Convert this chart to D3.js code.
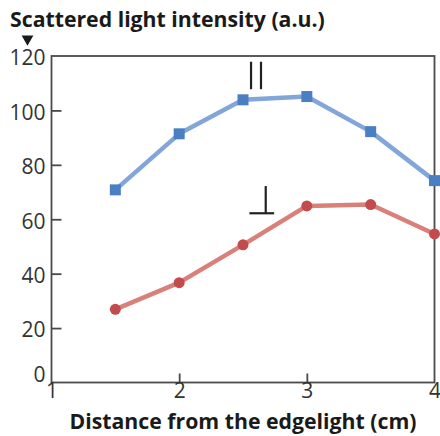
<!DOCTYPE html>
<html><head><meta charset="utf-8">
<script src="https://cdn.jsdelivr.net/npm/d3@7"></script>
<style>body{margin:0;background:#fff}svg{display:block}</style>
</head><body>
<svg id="c" width="440" height="436"></svg>
<script>
const distances = [1.5, 2, 2.5, 3, 3.5, 4];
const seriesII = [70.8, 91.4, 103.9, 105.1, 92.2, 74.2];
const seriesPerp = [26.9, 36.7, 50.6, 64.9, 65.4, 54.6];
const yTicks = [0, 20, 40, 60, 80, 100, 120];
const xTicks = [1, 2, 3, 4];
const yTitle = "Scattered light intensity (a.u.)";
const xTitle = "Distance from the edgelight (cm)";

const svg = d3.select("#c");
const L = 51.5, R = 434.5, T = 56, B = 382.5;
const x = d3.scaleLinear().domain([1, 4]).range([L, R]);
const y = d3.scaleLinear().domain([0, 120]).range([B, T]);
const axisCol = "#4a4a4a";
const font = "'Open Sans', 'Noto Sans', sans-serif";

// frame
svg.append("rect").attr("x", L).attr("y", T).attr("width", R - L).attr("height", B - T)
  .attr("fill", "none").attr("stroke", axisCol).attr("stroke-width", 1.8);

// left axis (ticks inward)
const ya = svg.append("g").attr("transform", `translate(${L},0)`)
  .call(d3.axisLeft(y).tickValues(yTicks).tickSize(-10).tickPadding(6).tickFormat(d3.format("d")));
ya.select(".domain").remove();
ya.selectAll(".tick line").attr("stroke", axisCol).attr("stroke-width", 1.8)
  .filter(d => d === 0 || d === 120).remove();
ya.selectAll(".tick text").attr("font-family", font).attr("font-size", 21).attr("fill", "#333")
  .attr("x", -6).attr("dy", d => d === 0 ? "-0.05em" : "0.42em");

// bottom axis
const xa = svg.append("g").attr("transform", `translate(0,${B})`)
  .call(d3.axisBottom(x).tickValues(xTicks).tickSize(-9).tickPadding(2).tickFormat(d3.format("d")));
xa.select(".domain").remove();
xa.selectAll(".tick line").attr("stroke", axisCol).attr("stroke-width", 1.8)
  .filter(d => d === 1 || d === 4).remove();
xa.selectAll(".tick text").attr("font-family", font).attr("font-size", 21).attr("fill", "#333")
  .attr("y", 1).attr("dy", "0.71em");

// lines
const line = d3.line().x((d, i) => x(distances[i])).y(d => y(d));
svg.append("path").datum(seriesII).attr("d", line).attr("fill", "none")
  .attr("stroke", "#82a6d9").attr("stroke-width", 4.5).attr("stroke-linejoin", "round");
svg.append("path").datum(seriesPerp).attr("d", line).attr("fill", "none")
  .attr("stroke", "#d9807a").attr("stroke-width", 4.5).attr("stroke-linejoin", "round");

// markers
const s = 11;
svg.append("g").selectAll("rect").data(seriesII).join("rect")
  .attr("x", (d, i) => x(distances[i]) - s / 2).attr("y", d => y(d) - s / 2)
  .attr("width", s).attr("height", s).attr("fill", "#4a7fc3");
svg.append("g").selectAll("circle").data(seriesPerp).join("circle")
  .attr("cx", (d, i) => x(distances[i])).attr("cy", d => y(d)).attr("r", 5.5).attr("fill", "#c44b4b");

// annotations: parallel and perpendicular symbols
const ann = svg.append("g").attr("stroke", "#222").attr("stroke-width", 2.2);
[2.563, 2.641].forEach(v => ann.append("line")
  .attr("x1", x(v)).attr("x2", x(v)).attr("y1", y(117.9)).attr("y2", y(107.8)));
ann.append("line").attr("x1", x(2.678)).attr("x2", x(2.678)).attr("y1", y(72.2)).attr("y2", y(62.2));
ann.append("line").attr("x1", x(2.55)).attr("x2", x(2.744)).attr("y1", y(62.2)).attr("y2", y(62.2));

// titles
function fitText(sel, target) {
  const w = sel.node().getComputedTextLength();
  const fs = parseFloat(sel.attr("font-size"));
  sel.attr("font-size", fs * target / w);
}
const yt = svg.append("text").attr("x", 10).attr("y", 27).attr("font-family", font)
  .attr("font-weight", "bold").attr("font-size", 19).attr("fill", "#1a1a1a").text(yTitle);
fitText(yt, 315);
svg.append("path").attr("d", d3.symbol(d3.symbolTriangle, 60)()).attr("fill", "#1a1a1a")
  .attr("transform", `translate(27.5,39) rotate(180)`);
const xt = svg.append("text").attr("x", (L + R) / 2).attr("y", 429).attr("text-anchor", "middle")
  .attr("font-family", font).attr("font-weight", "bold").attr("font-size", 19).attr("fill", "#1a1a1a").text(xTitle);
fitText(xt, 347);
</script>
</body></html>
